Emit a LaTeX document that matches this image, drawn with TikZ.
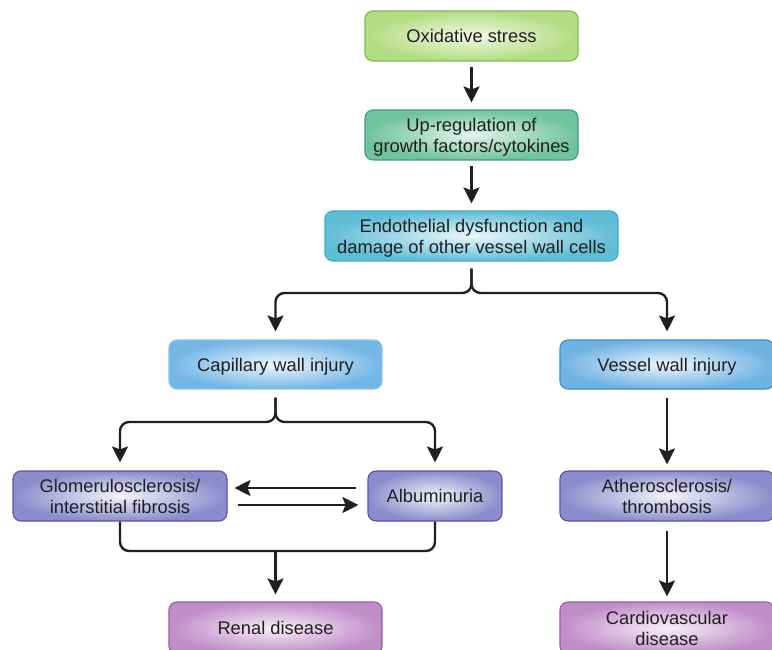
\documentclass[tikz,border=0pt]{standalone}
\usepackage{fontspec}
\setmainfont{Liberation Sans}
\usetikzlibrary{arrows.meta}
\definecolor{txt}{HTML}{231F20}
\definecolor{gB}{HTML}{78C04C}\definecolor{gO}{HTML}{B2DD82}\definecolor{gI}{HTML}{F0F9E3}
\definecolor{tB}{HTML}{3C9F7C}\definecolor{tO}{HTML}{6FC3A0}\definecolor{tI}{HTML}{E2F4EC}
\definecolor{cB}{HTML}{40A9C8}\definecolor{cO}{HTML}{5FBDD6}\definecolor{cI}{HTML}{EAF7FB}
\definecolor{bB}{HTML}{8AC3EA}\definecolor{bO}{HTML}{74B6E6}\definecolor{bI}{HTML}{F0F7FD}
\definecolor{vB}{HTML}{3B8FCB}\definecolor{vO}{HTML}{6FB3E3}\definecolor{vI}{HTML}{EEF6FC}
\definecolor{pB}{HTML}{5656A8}\definecolor{pO}{HTML}{8C8CCC}\definecolor{pI}{HTML}{F3F3FA}
\definecolor{mB}{HTML}{9A5AAB}\definecolor{mO}{HTML}{C08DC8}\definecolor{mI}{HTML}{F7F0F7}
\begin{document}
\begin{tikzpicture}[x=1pt,y=-1pt,
  box/.style={rounded corners=8pt, line width=1.1pt, minimum height=50pt, align=center,
    inner sep=2pt, text depth=0pt, font=\fontsize{18.3}{21}\selectfont, text=txt},
  gbox/.style={box, draw=gB, inner color=gI, outer color=gO},
  tbox/.style={box, draw=tB, inner color=tI, outer color=tO},
  cbox/.style={box, draw=cB, inner color=cI, outer color=cO},
  bbox/.style={box, draw=bB, inner color=bI, outer color=bO},
  vbox/.style={box, draw=vB, inner color=vI, outer color=vO},
  pbox/.style={box, draw=pB, inner color=pI, outer color=pO},
  mbox/.style={box, draw=mB, inner color=mI, outer color=mO},
  line/.style={line width=2.4pt, draw=txt},
  arr/.style={line, -{Stealth[length=16pt,width=16pt,inset=3pt]}},
]
\clip (0,0) rectangle (772,650);
\fill[white] (0,0) rectangle (772,650);

\node[gbox, minimum width=213pt] (ox) at (471.5,36) {Oxidative stress};
\node[tbox, minimum width=213pt] (up) at (471.5,135) {Up-regulation of\\growth factors/cytokines};
\node[cbox, minimum width=293pt] (endo) at (471.5,236) {Endothelial dysfunction and\\damage of other vessel wall cells};
\node[bbox, minimum width=213pt, minimum height=49pt] (cap) at (275.5,364.5) {Capillary wall injury};
\node[vbox, minimum width=214pt, minimum height=49pt] (ves) at (667,364.5) {Vessel wall injury};
\node[pbox, minimum width=214pt] (glom) at (120,496) {Glomerulosclerosis/\\interstitial fibrosis};
\node[pbox, minimum width=134pt] (alb) at (435,496) {Albuminuria};
\node[pbox, minimum width=214pt] (ath) at (667,496) {Atherosclerosis/\\thrombosis};
\node[mbox, minimum width=213pt, minimum height=52pt] (ren) at (275.5,628) {Renal disease};
\node[mbox, minimum width=214pt, minimum height=52pt] (card) at (667,628) {Cardiovascular\\disease};

\coordinate (s1) at (471.5,293);
\coordinate (s2) at (275.5,422);
\coordinate (m) at (275.5,551);

\draw[arr, shorten <=5pt, shorten >=7pt] (ox) -- (up);
\draw[arr, shorten <=5pt, shorten >=7pt] (up) -- (endo);
\draw[arr, rounded corners=9pt, shorten <=7pt, shorten >=8pt] (endo.south) -- (s1) -| (cap.north);
\draw[arr, rounded corners=9pt, shorten <=7pt, shorten >=8pt] (endo.south) -- (s1) -| (ves.north);
\draw[arr, rounded corners=9pt, shorten <=8pt, shorten >=8pt] (cap.south) -- (s2) -| (glom.north);
\draw[arr, rounded corners=9pt, shorten <=8pt, shorten >=8pt] (cap.south) -- (s2) -| (alb.north);
\draw[arr, shorten <=11pt, shorten >=7pt] ([yshift=8pt]alb.west) -- ([yshift=8pt]glom.east);
\draw[arr, shorten <=10pt, shorten >=9pt] ([yshift=-9pt]glom.east) -- ([yshift=-9pt]alb.west);
\draw[line, rounded corners=9pt] (glom.south) |- (m) -| (alb.south);
\draw[arr, shorten >=7pt] (m) -- (ren.north);
\draw[arr, shorten <=8pt, shorten >=6pt] (ves) -- (ath);
\draw[arr, shorten <=9pt, shorten >=5pt] (ath) -- (card);
\end{tikzpicture}
\end{document}
